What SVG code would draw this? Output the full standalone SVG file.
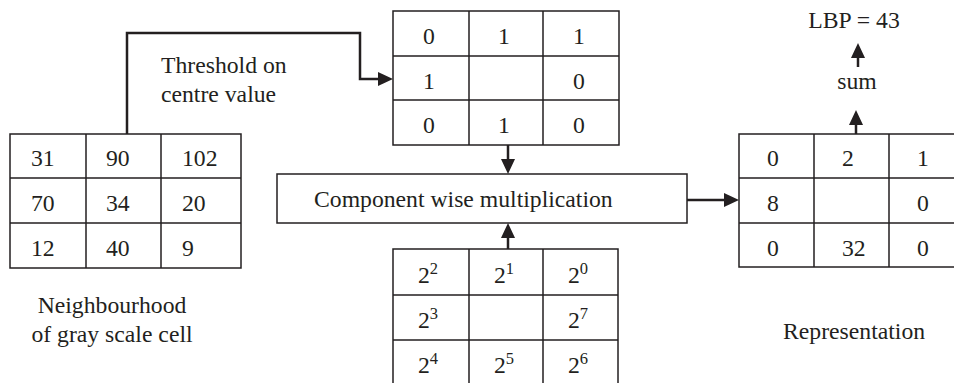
<svg xmlns="http://www.w3.org/2000/svg" width="954" height="383" viewBox="0 0 954 383" font-family="'Liberation Serif', 'DejaVu Serif', serif">
<style>
text{font-family:'Liberation Serif','DejaVu Serif',serif;font-size:23.7px;fill:#231f20}
.sup{font-size:16.5px}
.grid{fill:#fff;stroke:#231f20;stroke-width:1.5}
.gl{stroke:#231f20;stroke-width:1.5;fill:none}
.conn{stroke:#231f20;stroke-width:2.5;fill:none;marker-end:url(#ah)}
</style>
<defs>
<marker id="ah" markerUnits="userSpaceOnUse" markerWidth="16" markerHeight="16" refX="1" refY="7" orient="auto">
<path d="M0,0 L15,7 L0,14 Z" fill="#231f20"/>
</marker>
</defs>
<rect width="954" height="383" fill="#fff"/>

<g id="neighbourhood">
<rect class="grid" x="10" y="134" width="231" height="134"/>
<path class="gl" d="M86,134V268M161,134V268M10,178H241M10,223H241"/>
<text x="31" y="166">31</text><text x="106" y="166">90</text><text x="182" y="166">102</text>
<text x="31" y="211">70</text><text x="106" y="211">34</text><text x="182" y="211">20</text>
<text x="31" y="256">12</text><text x="106" y="256">40</text><text x="182" y="256">9</text>
<text x="112" y="313" text-anchor="middle">Neighbourhood</text>
<text x="112" y="342" text-anchor="middle">of gray scale cell</text>
</g>

<g id="threshold">
<rect class="grid" x="393" y="11" width="226" height="134"/>
<path class="gl" d="M469,11V145M543,11V145M393,56H619M393,100H619"/>
<text x="423" y="44">0</text><text x="498" y="44">1</text><text x="573" y="44">1</text>
<text x="423" y="89">1</text><text x="573" y="89">0</text>
<text x="423" y="133">0</text><text x="498" y="133">1</text><text x="573" y="133">0</text>
</g>

<g id="threshold-label">
<text x="161" y="73">Threshold on</text>
<text x="161" y="102">centre value</text>
</g>

<g id="multiplication">
<rect class="grid" x="277" y="174" width="410" height="49"/>
<text x="314" y="207">Component wise multiplication</text>
</g>

<g id="weights">
<rect class="grid" x="393" y="249" width="225" height="140"/>
<path class="gl" d="M469,249V389M543,249V389M393,295H618M393,340H618"/>
<text x="418" y="283">2<tspan class="sup" dy="-9">2</tspan></text>
<text x="494" y="283">2<tspan class="sup" dy="-9">1</tspan></text>
<text x="568" y="283">2<tspan class="sup" dy="-9">0</tspan></text>
<text x="418" y="328">2<tspan class="sup" dy="-9">3</tspan></text>
<text x="568" y="328">2<tspan class="sup" dy="-9">7</tspan></text>
<text x="418" y="373">2<tspan class="sup" dy="-9">4</tspan></text>
<text x="494" y="373">2<tspan class="sup" dy="-9">5</tspan></text>
<text x="568" y="373">2<tspan class="sup" dy="-9">6</tspan></text>
</g>

<g id="representation">
<rect class="grid" x="739" y="134" width="220" height="133"/>
<path class="gl" d="M814,134V267M889,134V267M739,178H959M739,223H959"/>
<text x="767" y="166">0</text><text x="842" y="166">2</text><text x="917" y="166">1</text>
<text x="767" y="211">8</text><text x="917" y="211">0</text>
<text x="767" y="256">0</text><text x="842" y="256">32</text><text x="917" y="256">0</text>
<text x="783" y="339">Representation</text>
</g>

<g id="sum">
<text x="857" y="89" text-anchor="middle">sum</text>
</g>

<g id="lbp">
<text x="854" y="28" text-anchor="middle">LBP = 43</text>
</g>

<g id="connectors">
<path class="conn" d="M127,134V33H360V79H379"/>
<path class="conn" d="M508,145V160"/>
<path class="conn" d="M508,249V237"/>
<path class="conn" d="M687,200H725"/>
<path class="conn" d="M856,134V124"/>
<path class="conn" d="M858,67V57"/>
</g>
</svg>
